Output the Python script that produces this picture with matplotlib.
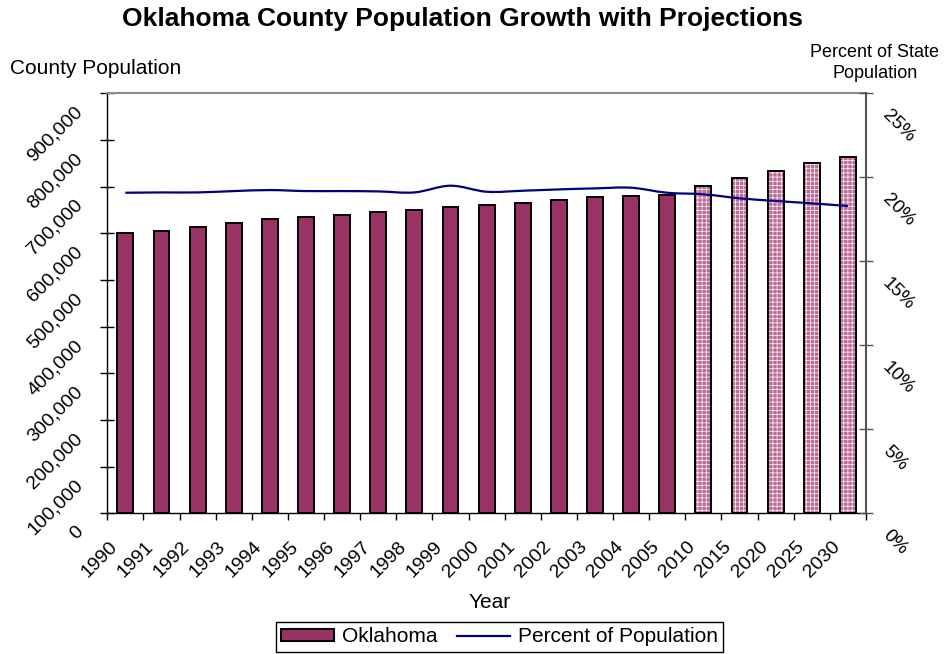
import matplotlib
matplotlib.use("Agg")
import matplotlib.pyplot as plt
import numpy as np
from matplotlib.patches import Patch, PathPatch
from matplotlib.lines import Line2D
from matplotlib.path import Path
from matplotlib.transforms import ScaledTranslation

plt.rcParams['font.family'] = ['Liberation Sans', 'DejaVu Sans']
plt.rcParams['hatch.linewidth'] = 0.5

# ---- data ----
years = ["1990", "1991", "1992", "1993", "1994", "1995", "1996", "1997", "1998",
         "1999", "2000", "2001", "2002", "2003", "2004", "2005",
         "2010", "2015", "2020", "2025", "2030"]
population = [599611, 605000, 614000, 622000, 630500, 634000, 639500, 645000,
              650000, 657000, 660448, 664000, 671000, 677000, 680500, 682000,
              701000, 718500, 734000, 750500, 764500]
percent_of_state = [19.08, 19.10, 19.10, 19.18, 19.24, 19.18, 19.18, 19.16, 19.10,
                    19.50, 19.14, 19.20, 19.28, 19.34, 19.38, 19.08,
                    18.99, 18.75, 18.59, 18.45, 18.29]
first_projection = "2010"
left_ticks = list(range(0, 900001, 100000))
right_ticks = [0, 5, 10, 15, 20, 25]

# ---- figure ----
W, H = 951, 654
fig = plt.figure(figsize=(W / 100, H / 100), dpi=100)
L, R, T, B = 107.3, 866.0, 93.3, 513.3
ax = fig.add_axes([L / W, 1 - B / H, (R - L) / W, (B - T) / H])

n = len(years)
x = np.arange(n)
split = years.index(first_projection)
bw = 0.44
plum = '#993366'

ax.bar(x[:split], population[:split], width=bw, color=plum,
       edgecolor='black', linewidth=1.4, zorder=2)
ax.bar(x[split:], population[split:], width=bw, color='#bd6895',
       edgecolor='white', hatch='++++', linewidth=0, zorder=2)
ax.bar(x[split:], population[split:], width=bw, fill=False,
       edgecolor='black', linewidth=1.4, zorder=3)

ax.set_xlim(-0.5, n - 0.5)
ax.set_ylim(0, 900000)
ax.set_yticks(left_ticks, labels=[f"{v:,}" for v in left_ticks])
ax.set_xticks(np.arange(-0.5, n, 1.0), labels=[])
ax.set_xticks(x, labels=years, minor=True)

ax.tick_params(axis='y', direction='inout', length=10, width=1, pad=0,
               labelsize=14, colors='black')
ax.tick_params(axis='x', which='major', direction='out', length=5, width=1)
ax.tick_params(axis='x', which='minor', length=0, pad=0, labelsize=14)

for s in ['left', 'bottom']:
    ax.spines[s].set_color('black')
    ax.spines[s].set_linewidth(1.0)
ax.spines['top'].set_color('#8c8c8c')
ax.spines['top'].set_linewidth(1.5)
ax.spines['right'].set_visible(False)

ax2 = ax.twinx()
ax2.set_ylim(0, 25)
ax2.set_yticks(right_ticks, labels=[f"{v}%" for v in right_ticks])
ax2.tick_params(axis='y', direction='inout', length=10, width=1, pad=0,
                labelsize=13.5, color='#555555', labelcolor='black')
ax2.spines['right'].set_color('#555555')
ax2.spines['right'].set_linewidth(1.5)
for s in ['left', 'top', 'bottom']:
    ax2.spines[s].set_visible(False)

# smoothed line (Catmull-Rom as cubic Bezier through the data points)
px = x.astype(float)
py = np.array(percent_of_state, dtype=float)
verts = [(px[0], py[0])]
codes = [Path.MOVETO]
for i in range(n - 1):
    p0 = np.array([px[max(i - 1, 0)], py[max(i - 1, 0)]])
    p1 = np.array([px[i], py[i]])
    p2 = np.array([px[i + 1], py[i + 1]])
    p3 = np.array([px[min(i + 2, n - 1)], py[min(i + 2, n - 1)]])
    c1 = p1 + (p2 - p0) / 6.0
    c2 = p2 - (p3 - p1) / 6.0
    verts += [tuple(c1), tuple(c2), tuple(p2)]
    codes += [Path.CURVE4] * 3
ax2.add_patch(PathPatch(Path(verts, codes), facecolor='none',
                        edgecolor='#000080', linewidth=1.6, zorder=4))

# tick label placement (rotated)
px_ = 1 / 100.0
for lab in ax.get_xticklabels(minor=True):
    lab.set_rotation(45)
    lab.set_rotation_mode('anchor')
    lab.set_ha('right')
    lab.set_va('center')
    lab.set_transform(lab.get_transform() +
                      ScaledTranslation(-10.5 * px_, -31 * px_, fig.dpi_scale_trans))
for lab in ax.get_yticklabels():
    lab.set_rotation(45)
    lab.set_rotation_mode('anchor')
    lab.set_ha('right')
    lab.set_va('center')
    lab.set_transform(lab.get_transform() +
                      ScaledTranslation(-20 * px_, -16 * px_, fig.dpi_scale_trans))
for lab in ax2.get_yticklabels():
    lab.set_rotation(-45)
    lab.set_rotation_mode('anchor')
    lab.set_ha('left')
    lab.set_va('center')
    lab.set_transform(lab.get_transform() +
                      ScaledTranslation(12 * px_, -20 * px_, fig.dpi_scale_trans))

# texts
fig.text(462 / W, 1 - 19 / H, "Oklahoma County Population Growth with Projections",
         ha='center', va='center', fontsize=19, fontweight='bold')
fig.text(10 / W, 1 - 68 / H, "County Population", ha='left', va='center', fontsize=15)
fig.text(875 / W, 1 - 63 / H, "Percent of State\nPopulation", ha='center',
         va='center', fontsize=13, linespacing=1.25)
fig.text(490 / W, 1 - 602 / H, "Year", ha='center', va='center', fontsize=15)

handles = [Patch(facecolor=plum, edgecolor='black', linewidth=1.5),
           Line2D([0], [0], color='#000080', linewidth=1.6)]
leg = fig.legend(handles, ["Oklahoma", "Percent of Population"], loc='center',
                 bbox_to_anchor=(499.5 / W, 1 - 637 / H), ncol=2, fontsize=15,
                 frameon=True, fancybox=False, edgecolor='black', framealpha=1,
                 borderpad=0.25, handlelength=2.55, handleheight=0.55,
                 handletextpad=0.38, columnspacing=0.9, borderaxespad=0)
leg.get_frame().set_linewidth(1.0)

fig.savefig("out.png", dpi=100)
